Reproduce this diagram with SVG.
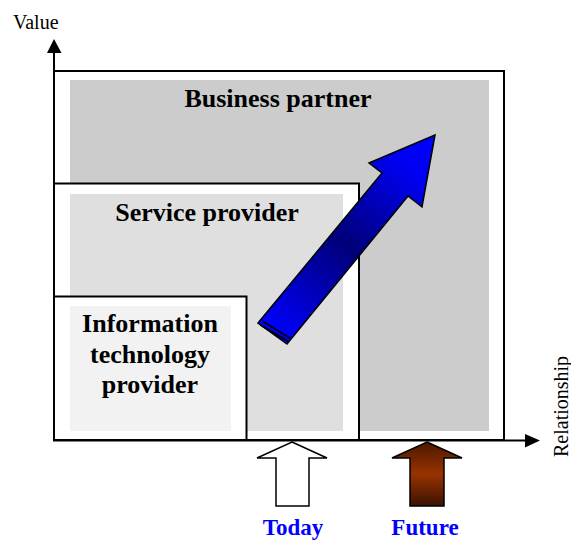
<svg xmlns="http://www.w3.org/2000/svg" width="571" height="541" viewBox="0 0 571 541">
<style>
.box{fill:#ffffff;stroke:#000;stroke-width:2}
.lbl{font-family:"Liberation Serif","Times New Roman",serif;font-weight:bold;font-size:26px;fill:#000;text-anchor:middle}
.ax{font-family:"Liberation Serif","Times New Roman",serif;font-size:20px;fill:#000}
.tl{font-family:"Liberation Serif","Times New Roman",serif;font-weight:bold;font-size:23px;fill:#0000ff;text-anchor:middle}
.axis{stroke:#000;stroke-width:2;fill:none}
.ol{stroke:#000;stroke-width:1.5;stroke-linejoin:miter}
</style>
<defs>
<linearGradient id="blueG" gradientUnits="userSpaceOnUse" x1="272" y1="333" x2="435" y2="135">
<stop offset="0" stop-color="#0000ff"/>
<stop offset="0.45" stop-color="#000078"/>
<stop offset="0.82" stop-color="#0000f0"/>
<stop offset="1" stop-color="#0000ff"/>
</linearGradient>
<linearGradient id="brownG" x1="0" y1="0" x2="0" y2="1">
<stop offset="0" stop-color="#4a1800"/>
<stop offset="0.5" stop-color="#993300"/>
<stop offset="1" stop-color="#3a1200"/>
</linearGradient>
</defs>
<g id="business-partner">
<rect class="box" x="54" y="71" width="450" height="369"/>
<rect x="70" y="80" width="419" height="351" fill="#cccccc"/>
<text class="lbl" x="278" y="107">Business partner</text>
</g>
<g id="service-provider">
<rect class="box" x="54" y="183.5" width="305" height="256.5"/>
<rect x="70" y="194" width="273" height="237" fill="#dfdfdf"/>
<text class="lbl" x="207" y="221">Service provider</text>
</g>
<g id="it-provider">
<rect class="box" x="54" y="296.5" width="192.5" height="143.5"/>
<rect x="70" y="306" width="161" height="125" fill="#f2f2f2"/>
<text class="lbl" x="150" y="332">Information</text>
<text class="lbl" x="150" y="362.5">technology</text>
<text class="lbl" x="150" y="393">provider</text>
</g>
<g id="axes">
<line class="axis" x1="54" y1="441" x2="54" y2="52"/>
<polygon points="47,53 54,39 61.5,53" fill="#000"/>
<line class="axis" x1="53" y1="440.5" x2="526" y2="440.5"/>
<polygon points="525,434 540,440.5 525,447.5" fill="#000"/>
<text class="ax" x="13" y="29">Value</text>
<text class="ax" transform="translate(568,457) rotate(-90)">Relationship</text>
</g>
<g id="growth-arrow">
<polygon class="ol" points="258,323 382,173 369,163 435,135 422,207 408,196 287,344" fill="url(#blueG)"/>
<line x1="260.5" y1="325" x2="288.5" y2="341.5" stroke="#000" stroke-width="2"/>
<line x1="263" y1="321.5" x2="290.5" y2="338.5" stroke="#000" stroke-width="1.5"/>
<line x1="262" y1="323.5" x2="289.5" y2="340" stroke="#0000ff" stroke-width="1"/>
</g>
<g id="today">
<polygon class="ol" points="292,442 327,458 309,458 309,506 276,506 276,458 257,458" fill="#ffffff"/>
<text class="tl" x="293" y="535">Today</text>
</g>
<g id="future">
<polygon class="ol" points="427,442 462,458 444,458 444,506 410,506 410,458 392,458" fill="url(#brownG)"/>
<text class="tl" x="425" y="535">Future</text>
</g>
</svg>
